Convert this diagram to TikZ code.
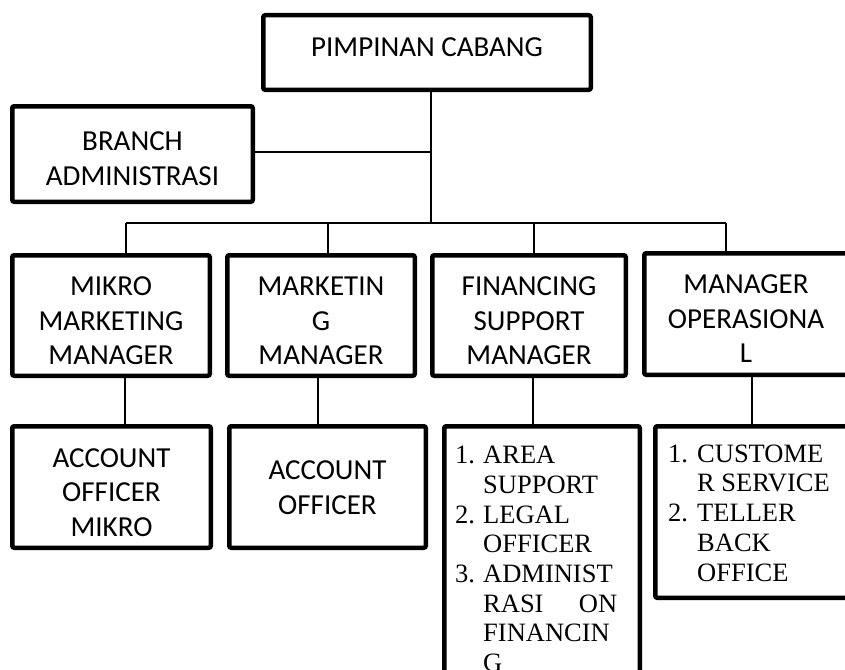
\documentclass[tikz,border=0pt]{standalone}
\usepackage{fontspec}
\newfontfamily\calib{Carlito}
\newfontfamily\tnr{Liberation Serif}
\begin{document}
\begin{tikzpicture}[x=1pt,y=-1pt,
  boxst/.style={draw=black,line width=4.5pt,rounded corners=2pt,inner sep=0pt,fill=none},
  conn/.style={draw=black,line width=1.3pt},
  uptext/.style={inner sep=0pt,align=center,font=\calib\fontsize{29}{34.5}\selectfont},
  listtext/.style={inner sep=0pt,align=left,anchor=north west,font=\tnr\fontsize{26.5}{29.7}\selectfont}]
\useasboundingbox (0,0) rectangle (845,669);
\clip (0,0) rectangle (845,669);
% boxes
\node[boxst,minimum width=327.5pt,minimum height=74.5pt] (pc) at (427,52.5) {};
\node[boxst,minimum width=240.5pt,minimum height=95.5pt] (ba) at (132.5,154) {};
\node[boxst,minimum width=197.5pt,minimum height=120.5pt] (m1) at (111,315.5) {};
\node[boxst,minimum width=187.5pt,minimum height=120.5pt] (m2) at (321,315.5) {};
\node[boxst,minimum width=193.5pt,minimum height=120.5pt] (m3) at (529,315.5) {};
\node[boxst,minimum width=203.5pt,minimum height=121.5pt] (m4) at (746,314) {};
\node[boxst,minimum width=198.5pt,minimum height=121.5pt] (a1) at (111.5,487) {};
\node[boxst,minimum width=196.5pt,minimum height=121.5pt] (a2) at (327.5,487) {};
\node[boxst,minimum width=195.5pt,minimum height=271.5pt] (a3) at (542,562) {};
\node[boxst,minimum width=202.5pt,minimum height=171.5pt] (a4) at (756.5,512) {};
% texts
\node[uptext] (pct) at (427,47) {PIMPINAN CABANG};
\node[uptext] (bat) at (132.5,158.5) {BRANCH\\ADMINISTRASI};
\node[uptext] (m1t) at (111,321) {MIKRO\\MARKETING\\MANAGER};
\node[uptext] (m2t) at (321,321) {MARKETIN\\G\\MANAGER};
\node[uptext] (m3t) at (529,321) {FINANCING\\SUPPORT\\MANAGER};
\node[uptext] (m4t) at (746,319) {MANAGER\\OPERASIONA\\L};
\node[uptext] (a1t) at (111.5,492.5) {ACCOUNT\\OFFICER\\MIKRO};
\node[uptext] (a2t) at (327.5,487.5) {ACCOUNT\\OFFICER};
\node[listtext] (a3t) at (455,446) {\makebox[28pt][l]{1.}AREA\\
\hspace*{28pt}SUPPORT\\
\makebox[28pt][l]{2.}LEGAL\\
\hspace*{28pt}OFFICER\\
\makebox[28pt][l]{3.}ADMINIST\\
\hspace*{28pt}\makebox[134pt][s]{RASI\hfill ON}\\
\hspace*{28pt}FINANCIN\\
\hspace*{28pt}G};
\node[listtext] (a4t) at (668,444.5) {\makebox[29pt][l]{1.}CUSTOME\\
\hspace*{29pt}R SERVICE\\
\makebox[29pt][l]{2.}TELLER\\
\hspace*{29pt}BACK\\
\hspace*{29pt}OFFICE};
% connectors
\coordinate (jt) at (431,223);
\coordinate (jb) at (431,152);
\coordinate (d1) at (126,223);
\coordinate (d2) at (328,223);
\coordinate (d3) at (534,223);
\coordinate (d4) at (726,223);
\coordinate (l1) at (125,400);
\coordinate (l2) at (318,400);
\coordinate (l3) at (533,400);
\coordinate (l4) at (752,400);
\draw[conn] (pc.south -| jt) -- (jt);
\draw[conn] (ba.east |- jb) -- (jb);
\draw[conn] (d1) -- (d4);
\draw[conn] (d1) -- (d1 |- m1.north);
\draw[conn] (d2) -- (d2 |- m2.north);
\draw[conn] (d3) -- (d3 |- m3.north);
\draw[conn] (d4) -- (d4 |- m4.north);
\draw[conn] (m1.south -| l1) -- (a1.north -| l1);
\draw[conn] (m2.south -| l2) -- (a2.north -| l2);
\draw[conn] (m3.south -| l3) -- (a3.north -| l3);
\draw[conn] (m4.south -| l4) -- (a4.north -| l4);
\end{tikzpicture}
\end{document}
